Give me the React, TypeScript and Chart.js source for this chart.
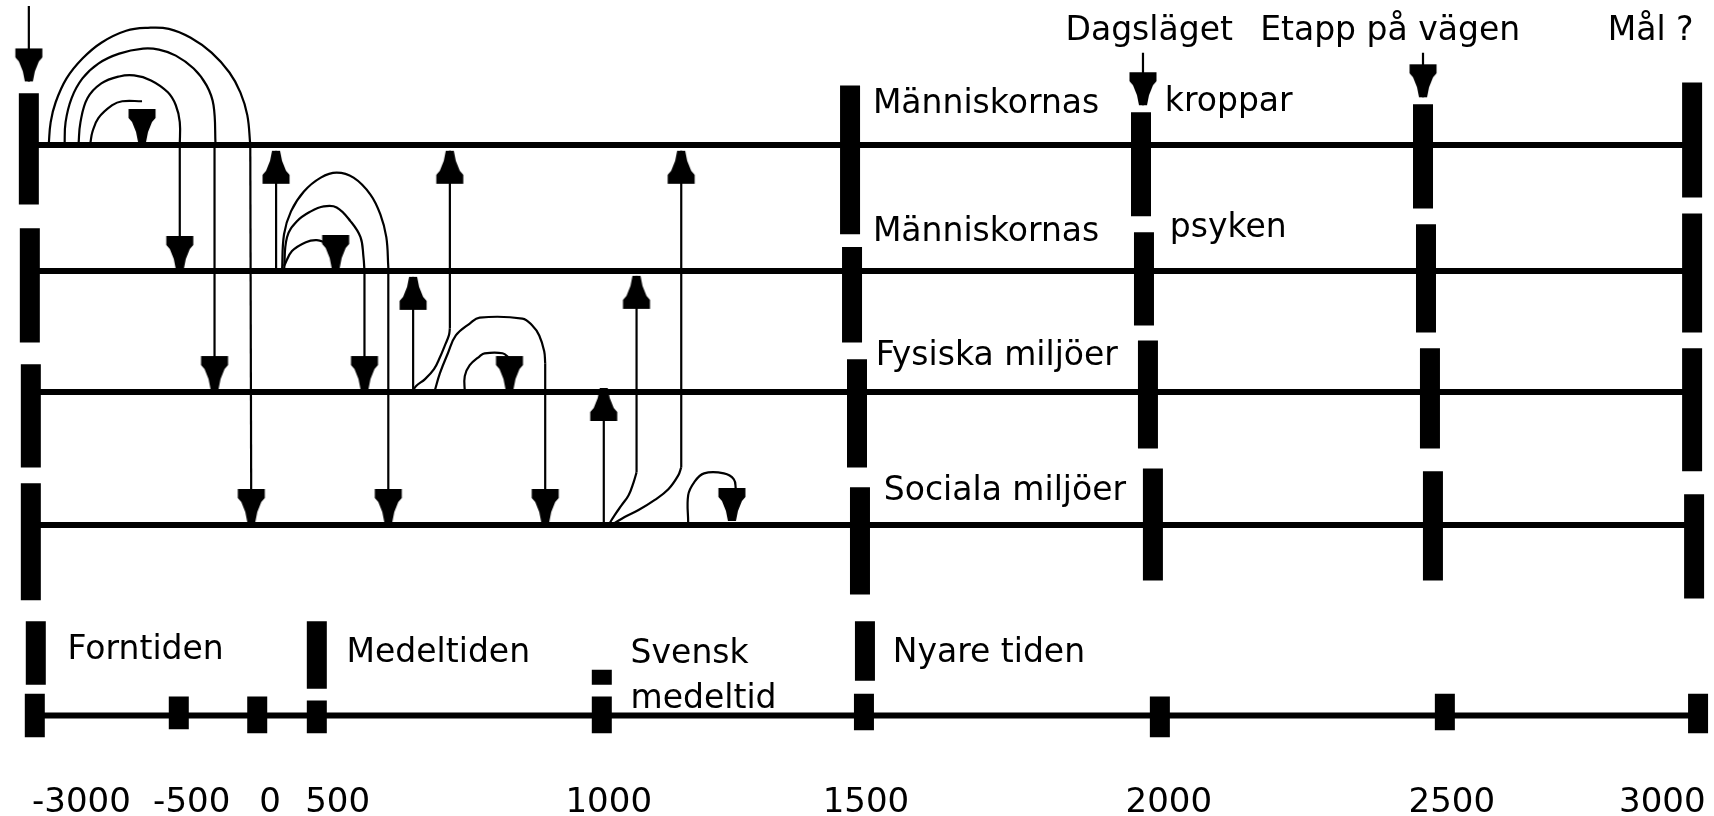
import React, { useEffect, useRef } from 'react';
import { Chart, registerables } from 'chart.js';

Chart.register(...registerables);

const W = 1714;
const H = 816;
const AXIS_H = 40;

// ---- bottom year axis ----
const yearLabels = ['-3000', '-500', '0', '500', '1000', '1500', '2000', '2500', '3000'];
const yearLabelX = [76, 187, 266, 334, 607, 866, 1171, 1456, 1668];
const yearTickX = [29, 174, 253, 313, 600, 864, 1162, 1449, 1704];
const yearTickTop = [693, 696, 696, 700, 696, 693, 696, 693, 693];
const yearTickBottom = [737, 729, 733, 733, 733, 730, 737, 730, 733];

// ---- theme rows (kroppar, psyken, fysiska, sociala) ----
const rowY = [140, 267, 389, 523];
const rowSpan = [22, 1700];
const timelineY = 715;
const timelineSpan = [29, 1714];

// ---- era columns: [x, top, bottom] ----
const colStart = [[23, 88, 200], [24, 224, 339], [25, 361, 465], [25, 481, 599]];
const colNyare = [[850, 80, 230], [852, 243, 339], [857, 356, 465], [860, 485, 593]];
const colDagslaget = [[1143, 107, 212], [1146, 228, 322], [1150, 337, 446], [1155, 466, 579]];
const colEtapp = [[1427, 99, 204], [1430, 220, 329], [1434, 345, 446], [1437, 469, 579]];
const colMal = [[1698, 77, 193], [1698, 209, 329], [1698, 345, 469], [1700, 492, 597]];
const periodMarks = [[30, 620, 684], [313, 620, 688], [600, 669, 684], [865, 620, 680]];

// ---- curved influence paths ----
const arcA4 = [[43, 140], [45, 117], [50, 97], [61, 73], [77, 53], [96, 37], [121, 25], [143, 22], [164, 23], [186, 32], [207, 47], [225, 67], [236, 87], [243, 110], [246, 140]];
const arcA3 = [[59, 140], [60, 117], [66, 93], [77, 73], [93, 58], [114, 48], [138, 43], [154, 44], [171, 50], [189, 63], [202, 80], [209, 100], [211, 140]];
const arcA2 = [[73, 140], [75, 117], [82, 93], [96, 78], [114, 71], [129, 70], [146, 75], [163, 87], [171, 100], [175, 117], [175, 140]];
const arcA1 = [[85, 138], [87, 127], [93, 113], [107, 100], [117, 96], [137, 96]];
const arcB3 = [[278, 267], [280, 230], [287, 207], [300, 187], [317, 173], [333, 168], [350, 173], [367, 190], [377, 210], [383, 233], [385, 263]];
const arcB2 = [[280, 267], [283, 233], [293, 217], [307, 207], [320, 202], [333, 203], [347, 217], [357, 233], [360, 253], [361, 267]];
const arcB1 = [[280, 262], [288, 247], [302, 238], [313, 236], [323, 239]];
const arcC2 = [[432, 387], [437, 370], [445, 350], [453, 332], [467, 320], [477, 314], [520, 315], [530, 322], [537, 332], [542, 348], [543, 360]];
const arcC1 = [[462, 389], [462, 373], [467, 362], [477, 353], [482, 350], [500, 350], [507, 355]];
const bendU2 = [[447, 325], [446, 332], [442, 342], [437, 354], [431, 366], [422, 376], [413, 383], [409, 389]];
const bendU5 = [[635, 470], [632, 480], [627, 493], [620, 503], [613, 513], [608, 521]];
const bendU6 = [[680, 465], [677, 473], [667, 487], [653, 498], [637, 508], [623, 515], [613, 521]];
const arcD1 = [[687, 521], [687, 493], [693, 480], [703, 471], [723, 471], [733, 477], [735, 487]];
const curves = [arcA4, arcA3, arcA2, arcA1, arcB3, arcB2, arcB1, arcC2, arcC1, bendU2, bendU5, bendU6, arcD1];

// ---- straight arrow shafts ----
const shafts = [
  [[23, 0], [23, 76]],
  [[1145, 47], [1145, 100]],
  [[1427, 47], [1427, 92]],
  [[175, 140], [175, 265]],
  [[210, 140], [210, 386]],
  [[246, 140], [247, 520]],
  [[272, 267], [272, 146]],
  [[385, 263], [385, 520]],
  [[361, 267], [361, 386]],
  [[447, 146], [447, 325]],
  [[410, 389], [410, 273]],
  [[543, 360], [543, 520]],
  [[602, 523], [602, 385]],
  [[635, 470], [635, 272]],
  [[680, 465], [680, 146]],
];

// ---- arrow heads: tip position and direction ----
const arrowTipX = [23, 1145, 1427, 137, 175, 210, 247, 272, 385, 361, 332, 447, 410, 543, 507, 602, 635, 680, 731];
const arrowTipY = [76, 100, 92, 137, 265, 386, 520, 146, 520, 386, 264, 146, 273, 520, 386, 385, 272, 146, 519];
const arrowDir = ['down', 'down', 'down', 'down', 'down', 'down', 'down', 'up', 'down', 'down', 'down', 'up', 'up', 'down', 'down', 'up', 'up', 'up', 'down'];

// ---- text labels ----
const labelTexts = ['Dagsläget', 'Etapp på vägen', 'Mål ?', 'Människornas', 'kroppar', 'Människornas', 'psyken', 'Fysiska miljöer', 'Sociala miljöer', 'Forntiden', 'Medeltiden', 'Svensk', 'medeltid', 'Nyare tiden'];
const labelX = [1067, 1263, 1613, 873, 1167, 873, 1172, 876, 884, 62, 343, 629, 629, 893];
const labelY = [34, 34, 34, 108, 106, 237, 233, 362, 498, 658, 661, 662, 707, 661];

function makeArrowHead(): HTMLCanvasElement {
  const c = document.createElement('canvas');
  c.width = 30;
  c.height = 72;
  const g = c.getContext('2d')!;
  const cx = 15;
  const cy = 36; // tip at center, pointing down
  const pts = [[-4, 0], [4, 0], [6, -10], [10, -20], [13.5, -24], [13.5, -33], [-13.5, -33], [-13.5, -24], [-10, -20], [-6, -10]];
  g.fillStyle = '#000';
  g.beginPath();
  pts.forEach(([x, y], i) => (i === 0 ? g.moveTo(cx + x, cy + y) : g.lineTo(cx + x, cy + y)));
  g.closePath();
  g.fill();
  return c;
}

function lineDs(pts: number[][], width: number, tension = 0, join: 'round' | 'bevel' = 'round') {
  return {
    type: 'line' as const,
    data: pts.map(([x, y]) => ({ x, y })),
    showLine: true,
    borderColor: '#000',
    backgroundColor: '#000',
    borderWidth: width,
    borderCapStyle: 'butt' as const,
    borderJoinStyle: join,
    pointRadius: 0,
    tension,
    fill: false,
    clip: false as const,
  };
}

const textPlugin = {
  id: 'diagramText',
  afterDatasetsDraw(chart: any) {
    const { ctx } = chart;
    const xs = chart.scales.x;
    const ys = chart.scales.y;
    ctx.save();
    ctx.fillStyle = '#000';
    ctx.font = '33px "DejaVu Sans"';
    ctx.textAlign = 'left';
    ctx.textBaseline = 'alphabetic';
    labelTexts.forEach((t, i) => {
      ctx.fillText(t, xs.getPixelForValue(labelX[i]), ys.getPixelForValue(labelY[i]));
    });
    ctx.restore();
  },
};

export default function App() {
  const ref = useRef<HTMLCanvasElement>(null);

  useEffect(() => {
    if (!ref.current) return;
    const arrow = makeArrowHead();
    const datasets: any[] = [];

    rowY.forEach((y) => datasets.push(lineDs([[rowSpan[0], y], [rowSpan[1], y]], 6, 0, 'bevel')));
    datasets.push(lineDs([[timelineSpan[0], timelineY], [timelineSpan[1], timelineY]], 6, 0, 'bevel'));

    [colStart, colNyare, colDagslaget, colEtapp, colMal, periodMarks].forEach((col) =>
      col.forEach(([x, t, b]) => datasets.push(lineDs([[x, t], [x, b]], 20, 0, 'bevel')))
    );
    yearTickX.forEach((x, i) => datasets.push(lineDs([[x, yearTickTop[i]], [x, yearTickBottom[i]]], 20, 0, 'bevel')));

    curves.forEach((c) => datasets.push(lineDs(c, 2.2, 0.4)));
    shafts.forEach((s) => datasets.push(lineDs(s, 2.2, 0, 'bevel')));

    datasets.push({
      type: 'scatter',
      data: arrowTipX.map((x, i) => ({ x, y: arrowTipY[i] })),
      showLine: false,
      pointStyle: arrow,
      pointRadius: 5,
      pointRotation: arrowDir.map((d) => (d === 'up' ? 180 : 0)),
      clip: false,
    });

    const chart = new Chart(ref.current, {
      type: 'scatter',
      data: { datasets },
      options: {
        animation: false,
        responsive: false,
        maintainAspectRatio: false,
        events: [],
        layout: { padding: 0 },
        plugins: { legend: { display: false }, tooltip: { enabled: false } },
        scales: {
          x: {
            type: 'linear',
            min: 0,
            max: W,
            grid: { display: false, drawTicks: false },
            border: { display: false },
            afterBuildTicks: (s: any) => {
              s.ticks = yearLabelX.map((v) => ({ value: v }));
            },
            afterFit: (s: any) => {
              s.height = AXIS_H;
            },
            ticks: {
              autoSkip: false,
              maxRotation: 0,
              minRotation: 0,
              padding: 7,
              color: '#000',
              font: { family: 'DejaVu Sans', size: 34 },
              callback: (v: any) => {
                const i = yearLabelX.indexOf(Number(v));
                return i >= 0 ? yearLabels[i] : '';
              },
            },
          },
          y: { type: 'linear', display: false, min: 0, max: H - AXIS_H, reverse: true },
        },
      },
      plugins: [textPlugin],
    } as any);

    return () => chart.destroy();
  }, []);

  return (
    <div style={{ position: 'fixed', left: 0, top: 0, width: W, height: H, background: '#fff' }}>
      <canvas ref={ref} width={W} height={H} style={{ display: 'block' }} />
    </div>
  );
}
